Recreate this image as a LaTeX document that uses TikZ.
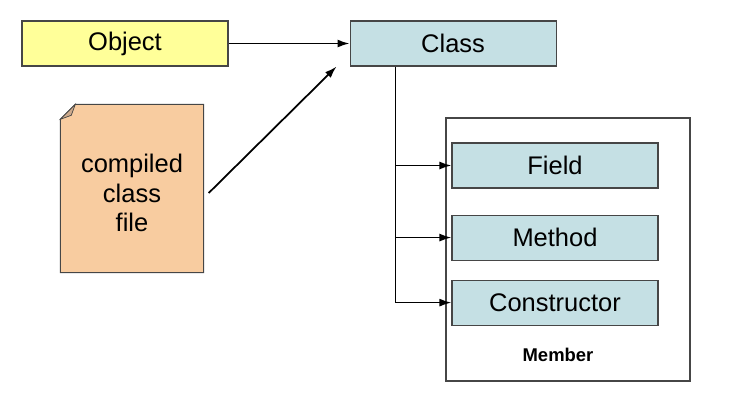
\documentclass[tikz,border=0pt]{standalone}
\usepackage{fontspec}
\setmainfont{Liberation Sans}
\usetikzlibrary{positioning}
\usetikzlibrary{arrows.meta}

\definecolor{objyellow}{RGB}{255,255,153}
\definecolor{clsblue}{RGB}{197,224,228}
\definecolor{filepeach}{RGB}{248,204,160}
\definecolor{foldpeach}{RGB}{205,170,140}
\definecolor{edgegray}{RGB}{70,70,70}

\begin{document}
\begin{tikzpicture}[thick,
	box/.style={draw=edgegray,line width=0.6pt,minimum width=4.12cm,minimum height=0.9cm,font=\fontsize{14.5}{16}\selectfont},
	arr/.style={-{Latex[length=2.4mm,width=1.6mm]},line width=1pt}]
	\useasboundingbox (0,0) rectangle (14.72,-8.08);
	\node[box,fill=objyellow] (Object) at (2.5,-0.87) {Object};
	\node[box,fill=clsblue, right=2.42cm of Object] (Class) {Class};
	\node[minimum width=2.84cm,minimum height=3.34cm] (File) at (2.64,-3.77) {};
	\draw[draw=edgegray,line width=0.6pt,fill=filepeach]
		([yshift=-0.3cm]File.north west) -- ([xshift=0.3cm]File.north west) -- (File.north east)
		-- (File.south east) -- (File.south west) -- cycle;
	\draw[draw=edgegray,line width=0.4pt,fill=foldpeach]
		([yshift=-0.3cm]File.north west) -- ([xshift=0.3cm]File.north west)
		-- ([xshift=0.22cm,yshift=-0.22cm]File.north west) -- cycle;
	\node[align=center,font=\fontsize{14.5}{17}\selectfont] (FileText) at ([yshift=-0.09cm]File.center) {compiled\\class\\file};
	\node[draw=edgegray,line width=0.6pt,minimum width=4.88cm,minimum height=5.26cm] (Member) at (11.36,-4.99) {};
	\node[box,fill=clsblue] (Field) at (11.1,-3.31) {Field};
	\node[box,fill=clsblue, below=0.52cm of Field] (Method) {Method};
	\node[box,fill=clsblue, below=0.38cm of Method] (Constructor) {Constructor};
	\node[font=\fontsize{10.5}{12}\bfseries] (MemberLbl) at (11.16,-7.1) {Member};
	\coordinate (trunk) at ([xshift=0.92cm]Class.south west);
	\coordinate (fromfile) at ([xshift=0.1cm,yshift=-0.09cm]File.east);
	\coordinate (toclass) at ([xshift=-0.26cm]Class.south west);
	\path[arr] (Object) edge (Class)
			  (fromfile) edge (toclass);
	\draw[line width=0.6pt] (trunk) -- (trunk |- Constructor.west);
	\draw[arr] (trunk |- Field.west) -- (Field.west);
	\draw[arr] (trunk |- Method.west) -- (Method.west);
	\draw[arr] (trunk |- Constructor.west) -- (Constructor.west);
\end{tikzpicture}
\end{document}
